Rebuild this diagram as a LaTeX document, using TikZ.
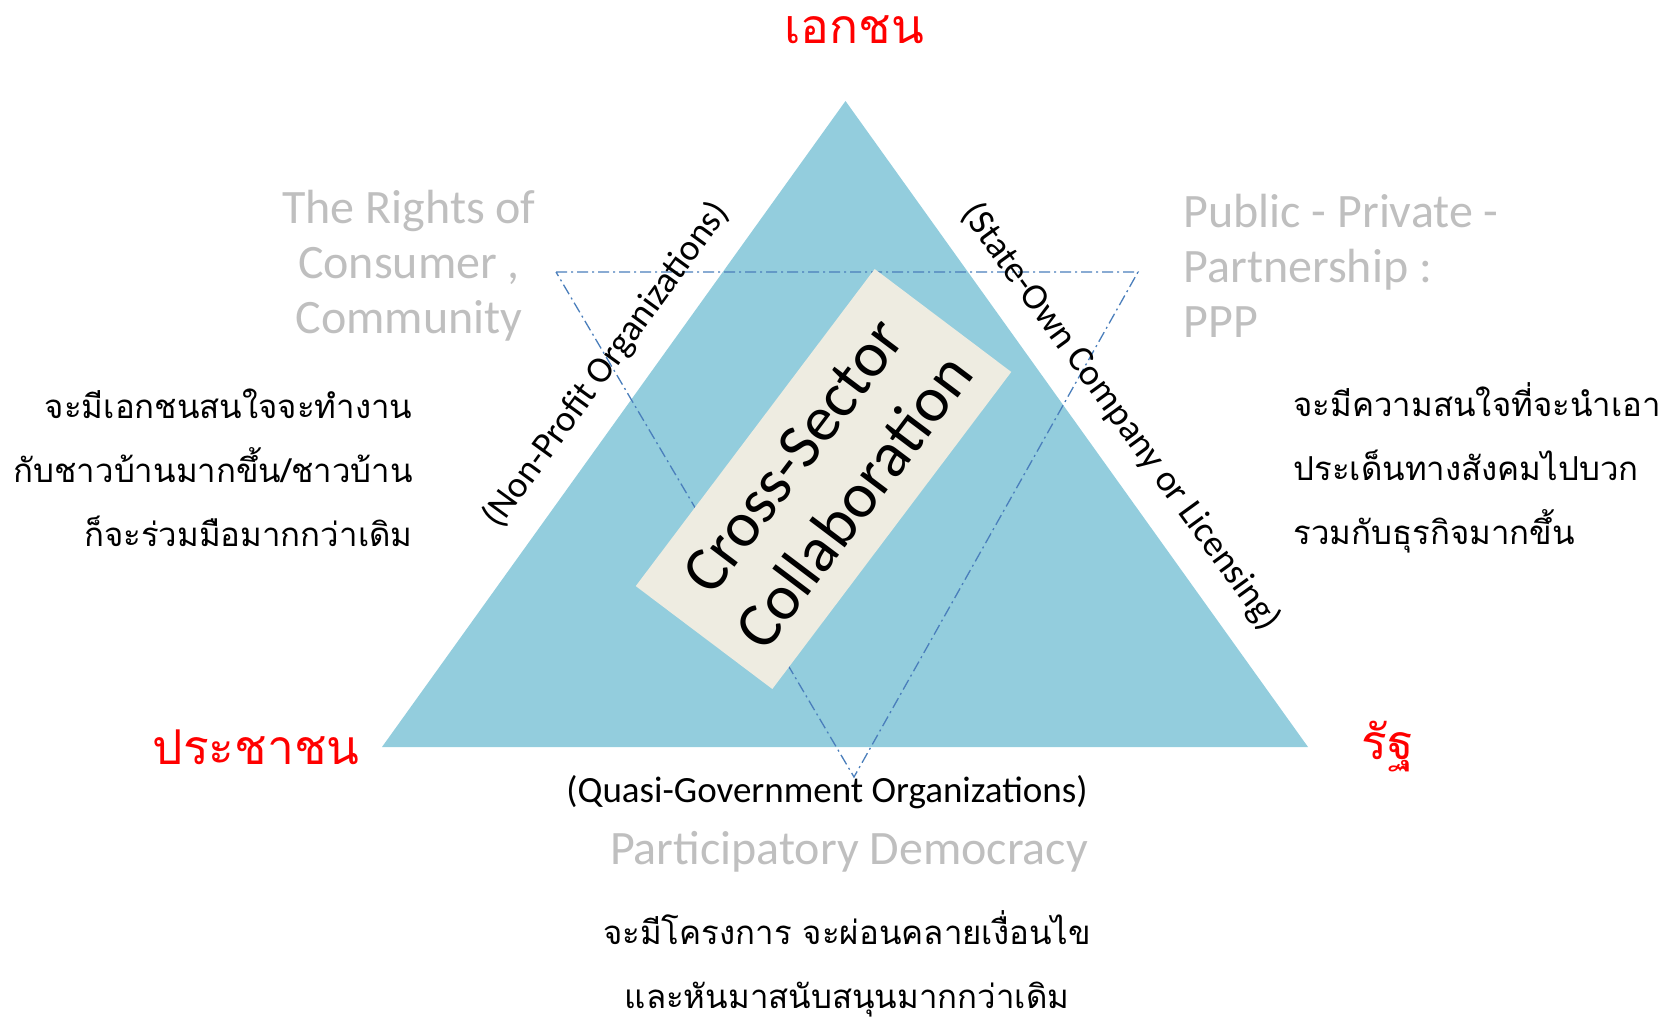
\documentclass[tikz,border=0pt]{standalone}
\usepackage{fontspec}
\setmainfont{Carlito}
\newfontfamily\thaifont[Script=Thai]{Loma}
\usetikzlibrary{positioning}

\definecolor{triblue}{HTML}{93CDDD}
\definecolor{boxbeige}{HTML}{EEECE1}
\definecolor{dashblue}{HTML}{4A7EBB}
\definecolor{softgray}{HTML}{BFBFBF}

\tikzset{
  sector/.style={text=red, font=\thaifont\fontsize{48}{58}\selectfont},
  thainote/.style={font=\thaifont\fontsize{33}{64}\selectfont},
  theme/.style={text=softgray, font=\fontsize{48}{55}\selectfont},
  edgelabel/.style={font=\fontsize{37}{44}\selectfont, inner sep=0pt},
}

\begin{document}
\begin{tikzpicture}[x=1pt, y=-1pt]
\useasboundingbox (0,0) rectangle (1674,1020);

% Main triangle
\coordinate (apex) at (845.5,101);
\coordinate (left) at (382,747);
\coordinate (right) at (1308,747);
\fill[triblue] (apex) -- (left) -- (right) -- cycle;

% Inverted dash-dot triangle
\coordinate (itl) at (556,272);
\coordinate (itr) at (1138,272);
\coordinate (ibot) at (854,777);
\draw[dashblue, line width=1.3pt, dash pattern=on 11pt off 4pt on 2pt off 4pt]
    (itl) -- (itr) -- (ibot) -- cycle;

% Centre box
\node[fill=boxbeige, minimum width=397pt, minimum height=171pt, inner sep=0pt,
      rotate=53, align=center, font=\fontsize{64}{76}\selectfont]
    (collab) at (823.5,479) {Cross-Sector\\Collaboration};

% Sectors
\node[sector] (private) at (854,30) {เอกชน};
\node[sector] (people) at (256,747) {ประชาชน};
\node[sector] (state) at (1388,747) {รัฐ};

% Labels along the sides
\node[edgelabel, rotate=54] (nonprofit) at (606,365) {(Non-Profit Organizations)};
\node[edgelabel, rotate=-54] (stateown) at (1121,417) {(State-Own Company or Licensing)};
\node[edgelabel] (quasi) at (827,792) {(Quasi-Government Organizations)};

% Themes
\node[theme, align=center] (rights) at (409,266) {The Rights of\\Consumer ,\\Community};
\node[theme, align=left, anchor=west] (ppp) at (1180,266) {Public - Private -\\Partnership :\\PPP};
\node[theme] (democracy) at (849,852) {Participatory Democracy};

% Notes
\node[thainote, align=right, anchor=east] (peoplenote) at (416,468)
    {จะมีเอกชนสนใจจะทำงาน\\กับชาวบ้านมากขึ้น/ชาวบ้าน\\ก็จะร่วมมือมากกว่าเดิม};
\node[thainote, align=left, anchor=west] (statenote) at (1290,468)
    {จะมีความสนใจที่จะนำเอา\\ประเด็นทางสังคมไปบวก\\รวมกับธุรกิจมากขึ้น};
\node[thainote, align=center] (democracynote) at (847,964)
    {จะมีโครงการ จะผ่อนคลายเงื่อนไข\\และหันมาสนับสนุนมากกว่าเดิม};
\end{tikzpicture}
\end{document}
